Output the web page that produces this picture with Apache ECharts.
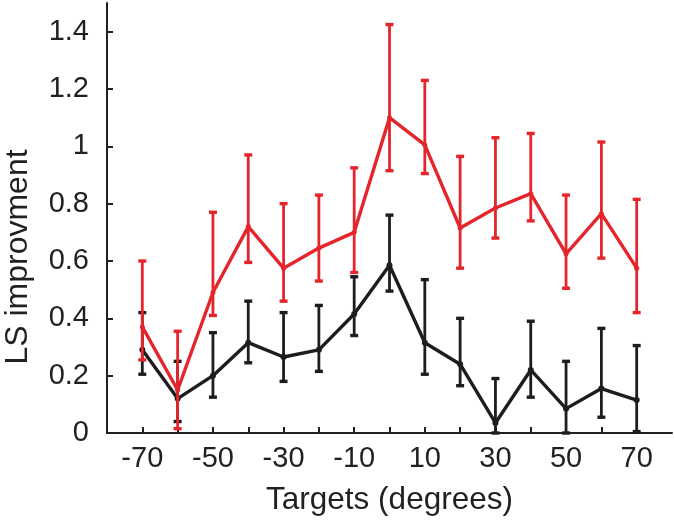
<!DOCTYPE html>
<html>
<head>
<meta charset="utf-8">
<script src="https://cdn.jsdelivr.net/npm/echarts@6/dist/echarts.min.js"></script>
<style>
html,body{margin:0;padding:0;background:#fff;}
#chart{width:674px;height:521px;}
</style>
</head>
<body>
<div id="chart"></div>
<script>
// Data
var targets = [-70, -60, -50, -40, -30, -20, -10, 0, 10, 20, 30, 40, 50, 60, 70];
var xTickValues = [-70, -60, -50, -40, -30, -20, -10, 0, 10, 20, 30, 40, 50, 60, 70];
var xLabelValues = [-70, -50, -30, -10, 10, 30, 50, 70];
var yTickValues = [0, 0.2, 0.4, 0.6, 0.8, 1, 1.2, 1.4];

var redMean  = [0.37, 0.15, 0.49, 0.72, 0.575, 0.645, 0.70, 1.10, 1.005, 0.715, 0.785, 0.835, 0.625, 0.765, 0.575];
var redUpper = [0.60, 0.355, 0.77, 0.97, 0.80, 0.83, 0.925, 1.425, 1.23, 0.965, 1.03, 1.045, 0.83, 1.015, 0.815];
var redLower = [0.255, 0.015, 0.41, 0.595, 0.46, 0.53, 0.56, 0.915, 0.905, 0.575, 0.68, 0.74, 0.505, 0.61, 0.42];

var blackMean  = [0.29, 0.12, 0.20, 0.315, 0.265, 0.29, 0.415, 0.585, 0.315, 0.24, 0.035, 0.22, 0.085, 0.155, 0.115];
var blackUpper = [0.42, 0.25, 0.35, 0.46, 0.42, 0.445, 0.545, 0.76, 0.535, 0.40, 0.19, 0.39, 0.25, 0.365, 0.305];
var blackLower = [0.205, 0.04, 0.125, 0.245, 0.18, 0.215, 0.34, 0.495, 0.205, 0.165, 0.0, 0.125, 0.0, 0.055, 0.005];

var xTitle = 'Targets (degrees)';
var yTitle = 'LS improvment';

var RED = '#e5252c';
var BLACK = '#1f1c1d';
var TEXT = '#231f20';
var FONT = 'Liberation Sans, Arial, Helvetica, sans-serif';

function pairs(xs, ys) { return xs.map(function (x, i) { return [x, ys[i]]; }); }
function triples(xs, lo, hi) { return xs.map(function (x, i) { return [x, lo[i], hi[i]]; }); }

function errorRenderer(color) {
  return function (params, api) {
    var x = api.value(0), lo = api.value(1), hi = api.value(2);
    var pLo = api.coord([x, lo]);
    var pHi = api.coord([x, hi]);
    var w = 4;
    var st = { stroke: color, lineWidth: 2.8 };
    var cap = { stroke: color, lineWidth: 3.4 };
    return {
      type: 'group',
      children: [
        { type: 'line', shape: { x1: pLo[0], y1: pLo[1], x2: pHi[0], y2: pHi[1] }, style: st },
        { type: 'line', shape: { x1: pLo[0] - w, y1: pLo[1], x2: pLo[0] + w, y2: pLo[1] }, style: cap },
        { type: 'line', shape: { x1: pHi[0] - w, y1: pHi[1], x2: pHi[0] + w, y2: pHi[1] }, style: cap }
      ]
    };
  };
}

var chart = echarts.init(document.getElementById('chart'), null, { renderer: 'canvas' });
chart.setOption({
  animation: false,
  backgroundColor: '#fff',
  grid: { left: 107, right: 2, top: 3, bottom: 88, containLabel: false },
  xAxis: {
    type: 'value',
    min: -80, max: 80, interval: 10,
    name: xTitle,
    nameLocation: 'middle',
    nameGap: 51,
    nameTextStyle: { color: TEXT, fontSize: 31.5, fontFamily: FONT },
    axisLine: { show: true, onZero: false, lineStyle: { color: TEXT, width: 2 } },
    axisTick: { show: true, inside: true, length: 6, lineStyle: { color: TEXT, width: 2 }, customValues: xTickValues },
    axisLabel: { color: TEXT, fontSize: 29, fontFamily: FONT, margin: 11, customValues: xLabelValues },
    splitLine: { show: false }
  },
  yAxis: {
    type: 'value',
    min: 0, max: 1.5, interval: 0.2,
    axisLine: { show: true, onZero: false, lineStyle: { color: TEXT, width: 2 } },
    axisTick: { show: true, inside: true, length: 6, lineStyle: { color: TEXT, width: 2 }, customValues: yTickValues },
    axisLabel: {
      color: TEXT, fontSize: 29, fontFamily: FONT, margin: 18, customValues: yTickValues,
      formatter: function (v) { return String(Math.round(v * 10) / 10); }
    },
    splitLine: { show: false }
  },
  graphic: [{
    type: 'text',
    x: 18, y: 257,
    rotation: Math.PI / 2,
    style: {
      text: yTitle, fill: TEXT, fontSize: 32, fontFamily: FONT,
      align: 'center', verticalAlign: 'middle'
    }
  }],
  series: [
    {
      type: 'custom', name: 'black err', z: 1,
      renderItem: errorRenderer(BLACK),
      encode: { x: 0, y: [1, 2] },
      data: triples(targets, blackLower, blackUpper),
      clip: false
    },
    {
      type: 'line', name: 'black', z: 2,
      data: pairs(targets, blackMean),
      symbol: 'circle', symbolSize: 6,
      itemStyle: { color: BLACK },
      lineStyle: { color: BLACK, width: 3.4 }
    },
    {
      type: 'custom', name: 'red err', z: 3,
      renderItem: errorRenderer(RED),
      encode: { x: 0, y: [1, 2] },
      data: triples(targets, redLower, redUpper),
      clip: false
    },
    {
      type: 'line', name: 'red', z: 4,
      data: pairs(targets, redMean),
      symbol: 'circle', symbolSize: 5,
      itemStyle: { color: RED },
      lineStyle: { color: RED, width: 3.4 }
    }
  ]
});
</script>
</body>
</html>
